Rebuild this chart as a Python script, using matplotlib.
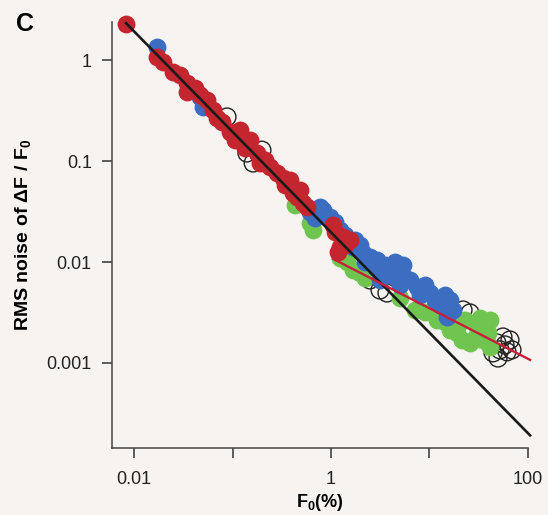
import numpy as np
import matplotlib
matplotlib.use("Agg")
import matplotlib.pyplot as plt
from matplotlib.ticker import FixedLocator, FixedFormatter

plt.rcParams['font.family'] = ['Liberation Sans', 'DejaVu Sans']
plt.rcParams['mathtext.fontset'] = 'custom'
plt.rcParams['mathtext.rm'] = 'Liberation Sans:bold'
plt.rcParams['mathtext.bf'] = 'Liberation Sans:bold'

# F0 (%) vs RMS noise of dF/F0, four groups of cells
red_x = [0.0083, 0.0171, 0.0197, 0.0249, 0.0293, 0.0345, 0.0345, 0.0416, 0.0468, 0.0551,
         0.0634, 0.0697, 0.0782, 0.0944, 0.106, 0.119, 0.134, 0.151, 0.177, 0.190,
         0.214, 0.240, 0.283, 0.326, 0.341, 0.384, 0.411, 0.452, 0.484, 0.520,
         0.570, 1.05, 1.10, 1.32, 1.23, 1.39, 1.56, 1.18]
red_y = [2.27, 1.07, 0.955, 0.760, 0.710, 0.592, 0.482, 0.528, 0.450, 0.402,
         0.320, 0.267, 0.243, 0.194, 0.161, 0.203, 0.135, 0.161, 0.120, 0.0955,
         0.102, 0.0872, 0.0760, 0.0679, 0.0578, 0.0649, 0.0482, 0.0440, 0.0516, 0.0384,
         0.0351, 0.0232, 0.0198, 0.0177, 0.0141, 0.0147, 0.0165, 0.0126]

blue_x = [0.0171, 0.0468, 0.0502, 0.612, 0.688, 0.773, 0.830, 0.977, 1.10, 1.23,
          1.39, 1.67, 1.75, 1.97, 2.11, 2.21, 2.49, 2.84, 2.93, 3.14,
          3.53, 3.97, 4.47, 4.68, 5.01, 5.38, 5.64, 6.34, 7.46, 8.01,
          9.0, 10.1, 11.4, 12.8, 14.4, 16.1, 17.3, 15.1]
blue_y = [1.35, 0.430, 0.343, 0.0313, 0.0273, 0.0351, 0.0327, 0.0279, 0.0249, 0.0207,
          0.0185, 0.0141, 0.0165, 0.0147, 0.0123, 0.0100, 0.0112, 0.00873, 0.0105, 0.00664,
          0.00934, 0.00743, 0.0100, 0.00778, 0.00592, 0.00934, 0.00695, 0.00664, 0.00565, 0.00471,
          0.00592, 0.00493, 0.00421, 0.00375, 0.00471, 0.00421, 0.00335, 0.00285]

green_x = [0.431, 0.612, 0.656, 1.23, 1.45, 1.67, 1.97, 2.21, 5.01, 7.13,
           9.0, 11.9, 14.4, 16.1, 19.0, 19.0, 21.4, 22.9, 25.8, 29.0,
           30.4, 32.6, 34.9, 39.3, 41.1, 41.1]
green_y = [0.0367, 0.0243, 0.0207, 0.0110, 0.0100, 0.00834, 0.00778, 0.00695, 0.00440, 0.00335,
           0.00320, 0.00267, 0.00255, 0.00212, 0.00227, 0.00198, 0.00169, 0.00267, 0.00158, 0.00177,
           0.00227, 0.00279, 0.00169, 0.00198, 0.00267, 0.00144]

black_x = [0.0880, 0.140, 0.199, 0.162, 2.49, 3.14, 3.70, 21.9, 25.8, 48.4,
           55.7, 58.4, 52.0, 44.2, 61.2, 65.6, 68.8, 49.6]
black_y = [0.273, 0.120, 0.128, 0.0955, 0.00664, 0.00528, 0.00493, 0.00335, 0.00313, 0.00158,
           0.00181, 0.00151, 0.00135, 0.00126, 0.00129, 0.00169, 0.00135, 0.00112]

# power-law fits: y = a * x^b
steep_a, steep_b = 0.0197, -0.995
steep_range = [0.0083, 105]
shallow_a, shallow_b = 0.011, -0.5
shallow_range = [1.05, 105]

bg = '#f7f3f0'
fig = plt.figure(figsize=(5.48, 5.15), dpi=100, facecolor=bg)
ax = fig.add_axes([0.2044, 0.1301, 0.7591, 0.8272], facecolor=bg)

ms = 165
ax.scatter(black_x, black_y, s=ms, facecolors='none', edgecolors='#222222',
           linewidths=1.0, zorder=2, clip_on=False)
ax.scatter(green_x, green_y, s=ms, color='#70c450', linewidths=0, zorder=3, clip_on=False)
ax.scatter(blue_x, blue_y, s=ms, color='#3b6dc1', linewidths=0, zorder=4, clip_on=False)
ax.scatter(red_x, red_y, s=ms, color='#c4262f', linewidths=0, zorder=5, clip_on=False)

xs = np.array(steep_range)
ax.plot(xs, steep_a * xs ** steep_b, color='#1a1a1a', lw=1.9, zorder=6, clip_on=False)
xs = np.array(shallow_range)
ax.plot(xs, shallow_a * xs ** shallow_b, color='#c8203a', lw=1.7, zorder=7, clip_on=False)

ax.set_xscale('log')
ax.set_yscale('log')
ax.set_xlim(0.00598, 100)
ax.set_ylim(0.000144, 2.38)

ax.xaxis.set_major_locator(FixedLocator([0.01, 0.1, 1, 10, 100]))
ax.xaxis.set_major_formatter(FixedFormatter(['0.01', '', '1', '', '100']))
ax.yaxis.set_major_locator(FixedLocator([0.001, 0.01, 0.1, 1]))
ax.yaxis.set_major_formatter(FixedFormatter(['0.001', '0.01', '0.1', '1']))
ax.xaxis.set_minor_locator(FixedLocator([]))
ax.yaxis.set_minor_locator(FixedLocator([]))

for s in ['top', 'right']:
    ax.spines[s].set_visible(False)
for s in ['left', 'bottom']:
    ax.spines[s].set_color('#444444')
    ax.spines[s].set_linewidth(1.1)

ax.tick_params(axis='both', direction='out', length=7.5, width=1.1, color='#333333',
               labelsize=13, labelcolor='#222222')
ax.tick_params(axis='x', pad=9)
ax.tick_params(axis='y', pad=7)

ax.set_xlabel(r'F$_\mathbf{0}$(%)', fontsize=13, fontweight='bold', labelpad=3)
ax.set_ylabel(r'RMS noise of ΔF / F$_\mathbf{0}$', fontsize=14, fontweight='bold', labelpad=9)

fig.text(0.046, 0.953, 'C', fontsize=18, fontweight='bold', ha='center', va='center')

fig.savefig('out.png', dpi=100, facecolor=bg)
